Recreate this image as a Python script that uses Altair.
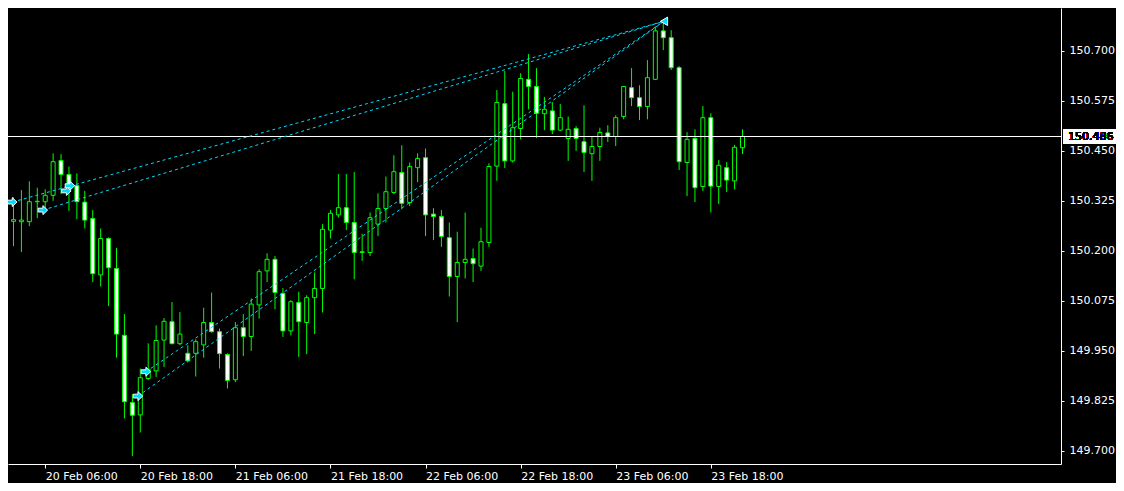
import altair as alt
import pandas as pd

# ---------------- data ----------------
bar_index = list(range(1, 94))
open_ = [150.274, 150.273, 150.273, 150.323, 150.323, 150.339, 150.426, 150.391, 150.363, 150.322,
         150.281, 150.140, 150.231, 150.156, 149.989, 149.821, 149.790, 149.881, 149.900, 149.977,
         150.023, 149.968, 149.944, 149.944, 149.965, 150.021, 149.998, 149.941, 149.878, 150.008,
         149.986, 150.065, 150.150, 150.179, 150.094, 150.000, 150.071, 150.021, 150.083, 150.106,
         150.252, 150.290, 150.308, 150.271, 150.196, 150.196, 150.267, 150.306, 150.346, 150.396,
         150.321, 150.408, 150.433, 150.292, 150.286, 150.233, 150.136, 150.171, 150.181, 150.162,
         150.221, 150.412, 150.568, 150.425, 150.506, 150.629, 150.611, 150.543, 150.550, 150.502,
         150.481, 150.506, 150.473, 150.443, 150.461, 150.495, 150.486, 150.536, 150.608, 150.583,
         150.561, 150.629, 150.750, 150.733, 150.658, 150.421, 150.481, 150.361, 150.533, 150.361,
         150.408, 150.375, 150.458]
high = [150.334, 150.352, 150.374, 150.358, 150.354, 150.444, 150.442, 150.411, 150.394, 150.350,
        150.302, 150.256, 150.234, 150.207, 150.042, 149.842, 149.906, 149.969, 150.014, 150.032,
        150.072, 150.047, 149.964, 149.979, 150.058, 150.096, 150.006, 149.944, 150.022, 150.042,
        150.081, 150.154, 150.194, 150.187, 150.107, 150.077, 150.098, 150.089, 150.146, 150.267,
        150.302, 150.392, 150.392, 150.397, 150.243, 150.296, 150.344, 150.386, 150.439, 150.464,
        150.421, 150.444, 150.456, 150.307, 150.302, 150.271, 150.248, 150.296, 150.206, 150.258,
        150.419, 150.602, 150.650, 150.598, 150.644, 150.692, 150.657, 150.585, 150.572, 150.567,
        150.536, 150.512, 150.564, 150.486, 150.508, 150.514, 150.539, 150.612, 150.657, 150.614,
        150.677, 150.761, 150.777, 150.752, 150.662, 150.497, 150.504, 150.562, 150.544, 150.427,
        150.422, 150.465, 150.504]
low = [150.212, 150.197, 150.262, 150.282, 150.307, 150.325, 150.342, 150.300, 150.279, 150.256,
       150.122, 150.111, 150.062, 149.933, 149.781, 149.687, 149.746, 149.877, 149.885, 149.910,
       149.967, 149.964, 149.921, 149.886, 149.933, 149.996, 149.906, 149.856, 149.872, 149.937,
       149.950, 150.031, 150.122, 150.054, 149.985, 149.989, 149.935, 149.942, 149.992, 150.046,
       150.231, 150.283, 150.252, 150.129, 150.175, 150.187, 150.237, 150.271, 150.342, 150.304,
       150.312, 150.372, 150.237, 150.227, 150.210, 150.086, 150.022, 150.131, 150.122, 150.150,
       150.210, 150.375, 150.407, 150.421, 150.479, 150.554, 150.482, 150.502, 150.492, 150.500,
       150.425, 150.450, 150.397, 150.375, 150.425, 150.472, 150.462, 150.529, 150.562, 150.527,
       150.529, 150.627, 150.702, 150.652, 150.402, 150.337, 150.322, 150.350, 150.296, 150.317,
       150.347, 150.354, 150.442]
close = [150.278, 150.277, 150.323, 150.324, 150.339, 150.423, 150.391, 150.362, 150.323, 150.277,
         150.143, 150.231, 150.158, 149.992, 149.823, 149.789, 149.883, 149.904, 149.976, 150.024,
         149.968, 149.992, 149.925, 149.973, 150.021, 149.998, 149.943, 149.876, 150.008, 149.986,
         150.067, 150.148, 150.179, 150.096, 150.000, 150.073, 150.023, 150.083, 150.106, 150.254,
         150.294, 150.308, 150.271, 150.196, 150.198, 150.283, 150.306, 150.348, 150.398, 150.319,
         150.411, 150.431, 150.290, 150.286, 150.236, 150.136, 150.171, 150.179, 150.168, 150.223,
         150.411, 150.571, 150.425, 150.508, 150.631, 150.611, 150.544, 150.554, 150.502, 150.533,
         150.504, 150.481, 150.446, 150.461, 150.496, 150.486, 150.533, 150.611, 150.583, 150.561,
         150.633, 150.750, 150.733, 150.658, 150.423, 150.479, 150.358, 150.533, 150.362, 150.414,
         150.377, 150.459, 150.486]

current_price = 150.486

time_tick_index = [5, 17, 29, 41, 53, 65, 77, 89]
time_tick_labels = ["20 Feb 06:00", "20 Feb 18:00", "21 Feb 06:00", "21 Feb 18:00",
                    "22 Feb 06:00", "22 Feb 18:00", "23 Feb 06:00", "23 Feb 18:00"]
price_ticks = [149.700, 149.825, 149.950, 150.075, 150.200, 150.325, 150.450, 150.575, 150.700]

trade_open_index = [0.84, 4.71, 16.71, 17.71]
trade_open_price = [150.322, 150.302, 149.837, 149.898]
trade_close_index = 83.09
trade_close_price = 150.774
extra_arrow_index = [7.675, 8.125]
extra_arrow_price = [150.350, 150.363]

# ---------------- tables ----------------
candles = pd.DataFrame({"i": bar_index, "open": open_, "high": high, "low": low, "close": close})

line_rows = []
for k, (ti, tp) in enumerate(zip(trade_open_index, trade_open_price)):
    line_rows.append({"trade": k, "i": ti, "price": tp})
    line_rows.append({"trade": k, "i": trade_close_index, "price": trade_close_price})
trade_lines = pd.DataFrame(line_rows)

arrows = pd.DataFrame({"i": trade_open_index + extra_arrow_index,
                       "price": trade_open_price + extra_arrow_price})
close_mark = pd.DataFrame({"i": [trade_close_index], "price": [trade_close_price]})

# ---------------- styling ----------------
W, H = 1053, 456
FONT = "DejaVu Sans"
LIME = "#00ff00"
CYAN = "#00dcff"

x_scale = alt.Scale(domain=[0.9375, 132.5625], nice=False, zero=False)
y_scale = alt.Scale(domain=[149.66725, 150.80725], nice=False, zero=False)

label_expr = ("[" + ",".join("'" + s + "'" for s in time_tick_labels) + "]"
              "[indexof([" + ",".join(str(v) for v in time_tick_index) + "], datum.value)]")

x_axis = alt.Axis(values=time_tick_index, labelExpr=label_expr, orient="bottom", title=None,
                  grid=False, tickSize=4, labelPadding=2, labelAlign="left", labelFlush=False,
                  labelOverlap=False, domainColor="white", tickColor="white", labelColor="white",
                  labelFont=FONT, labelFontSize=11)
y_axis = alt.Axis(values=price_ticks, format=".3f", orient="right", title=None, grid=False,
                  tickSize=3, labelPadding=5, labelBaseline="middle", labelFlush=False,
                  labelOverlap=False, domainColor="white", tickColor="white", labelColor="white",
                  labelFont=FONT, labelFontSize=11)

xq = lambda f: alt.X(f, type="quantitative", scale=x_scale, axis=x_axis)
yq = lambda f: alt.Y(f, type="quantitative", scale=y_scale, axis=y_axis)

base = alt.Chart(candles)

wicks = base.mark_rule(color=LIME, strokeWidth=1, clip=True).encode(
    x=xq("i"), y=yq("low"), y2="high")

bodies = base.mark_bar(width=4, stroke=LIME, strokeWidth=1, clip=True).encode(
    x=xq("i"), y=yq("open"), y2="close",
    fill=alt.when(alt.datum.close < alt.datum.open).then(alt.value("white")).otherwise(alt.value("black")))

price_line = alt.Chart(candles).mark_rule(color="white", strokeWidth=1).encode(
    y=alt.datum(current_price, scale=y_scale, axis=y_axis))

lines = alt.Chart(trade_lines).mark_line(color=CYAN, strokeWidth=1, strokeDash=[3, 3], clip=True).encode(
    x=xq("i"), y=yq("price"), detail="trade:N")

arrow_path = "M-1,-0.4L0,-0.4L0,-0.95L1,0L0,0.95L0,0.4L-1,0.4Z"
arrow_marks = alt.Chart(arrows).mark_point(shape=arrow_path, size=90, filled=True, fill=CYAN,
                                           stroke="white", strokeWidth=1, opacity=1, clip=True).encode(
    x=xq("i"), y=yq("price"))

close_marks = alt.Chart(close_mark).mark_point(shape="triangle-left", size=70, filled=True, fill=CYAN,
                                               stroke="white", strokeWidth=1, opacity=1).encode(
    x=xq("i"), y=yq("price"))

box_path = "M-1,-0.283L1,-0.283L1,0.283L-1,0.283Z"
price_box = alt.Chart(candles).mark_point(shape=box_path, size=2809, filled=True, color="white",
                                          opacity=1).encode(
    x=alt.value(1081.5), y=alt.datum(current_price))

price_text = alt.Chart(candles).mark_text(align="left", baseline="middle", color="black",
                                          font=FONT, fontSize=11).encode(
    x=alt.value(1060), y=alt.datum(current_price), text=alt.value(f"{current_price:.3f}"))

chart = alt.layer(wicks, bodies, price_line, lines, arrow_marks, close_marks, price_box, price_text).properties(
    width=W, height=H,
    autosize=alt.AutoSizeParams(type="none"),
    padding={"left": 0, "top": 0, "right": 55, "bottom": 19},
    background="black",
).configure_view(stroke=None)

chart.save("out.html", embed_options={"renderer": "svg", "actions": False})
